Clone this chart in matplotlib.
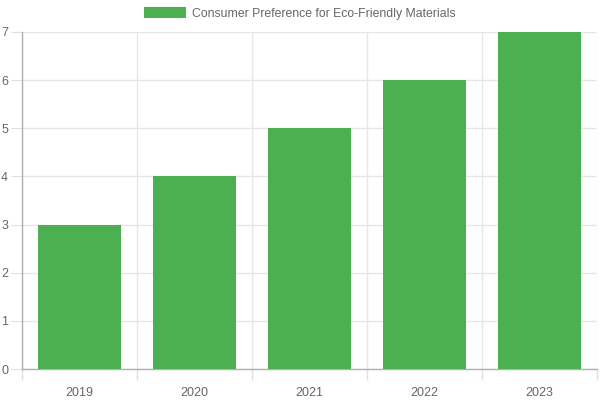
import matplotlib.pyplot as plt
import numpy as np
from matplotlib.patches import Patch

# data
years = ['2019', '2020', '2021', '2022', '2023']
preference = [3, 4, 5, 6, 7]
series_label = 'Consumer Preference for Eco-Friendly Materials'

plt.rcParams['font.family'] = ['Liberation Sans', 'DejaVu Sans']

fig = plt.figure(figsize=(6, 4), dpi=100)
ax = fig.add_axes([22 / 600, 31 / 400, 575 / 600, 337 / 400])

x = np.arange(len(years))
ax.bar(x, preference, width=0.72, color='#4CAF50', zorder=3)

ax.set_xlim(-0.5, len(years) - 0.5)
ax.set_ylim(0, 7)

# category labels on major ticks, grid on the boundaries
ax.set_xticks(x)
ax.set_xticklabels(years)
ax.set_xticks(np.arange(-0.5, len(years)), minor=True)
ax.tick_params(axis='x', which='major', length=0, pad=13, labelsize=9, labelcolor='#666666')
ax.tick_params(axis='x', which='minor', length=8, color='#e0e0e0', width=1)
ax.grid(axis='x', which='minor', color='#e6e6e6', linewidth=1)

ax.set_yticks(range(0, 8))
ax.tick_params(axis='y', length=8, color='#e0e0e0', pad=2, labelsize=9, labelcolor='#666666')
ax.grid(axis='y', color='#e6e6e6', linewidth=1)
ax.set_axisbelow(True)

for side in ['top', 'right']:
    ax.spines[side].set_visible(False)
for side in ['left', 'bottom']:
    ax.spines[side].set_color('#b0b0b0')
    ax.spines[side].set_linewidth(1)

handle = Patch(facecolor='#4CAF50', label=series_label)
fig.legend(handles=[handle], loc='upper center', bbox_to_anchor=(0.5, 1.012), frameon=False,
           fontsize=8.8, labelcolor='#666666', handlelength=3.4, handleheight=1.0, borderpad=0.5,
           handletextpad=0.5)

fig.savefig('out.png', dpi=100)
